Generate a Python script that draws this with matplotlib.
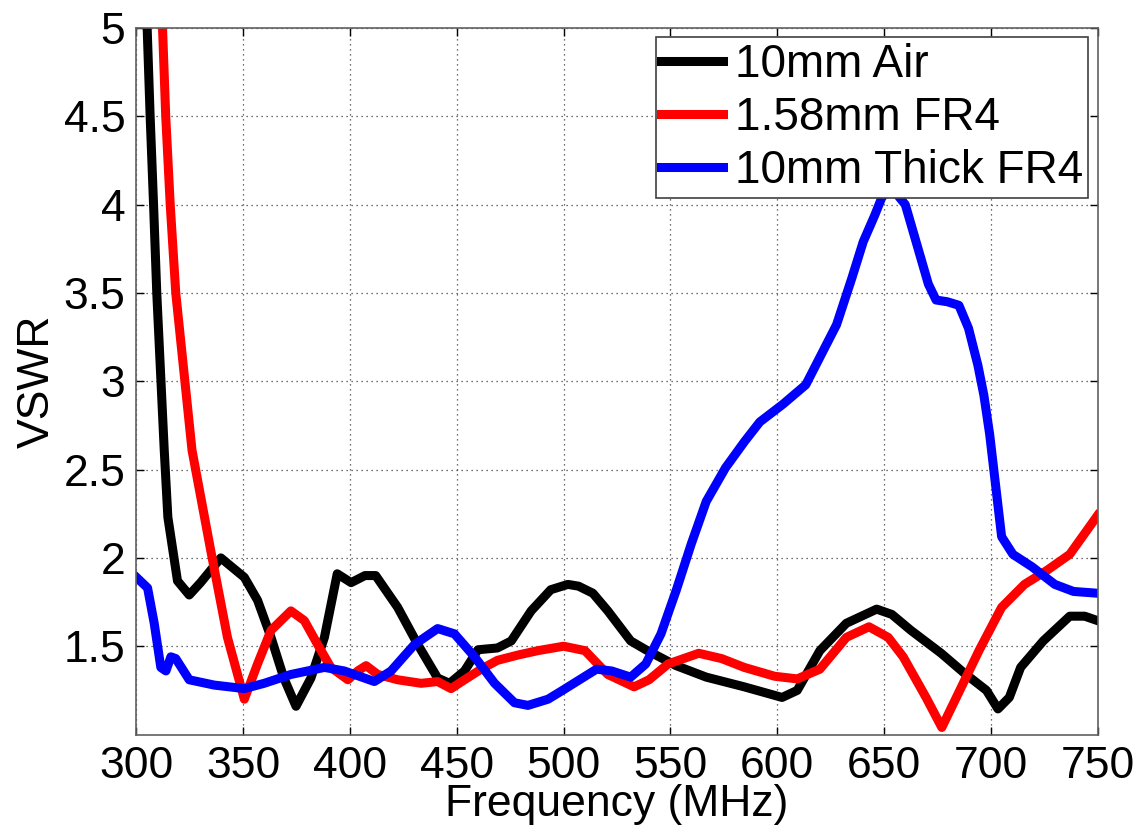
import matplotlib
matplotlib.use("Agg")
import matplotlib.pyplot as plt

plt.rcParams['font.family'] = ['Liberation Sans', 'DejaVu Sans']

# 10mm Air (black)
air_f = [300, 303, 305, 306.4, 308, 309.5, 313, 314.7, 319.2, 324.7, 330, 339.5, 350.5, 356.7,
         363, 369, 374.7, 381.7, 388, 394, 400.5, 407, 412, 422.3, 431.7, 441, 446.6, 453.6,
         459.9, 469, 475.5, 484.8, 494, 502, 507, 513.7, 520.7, 531.4, 538.5, 552.7, 566.8,
         584.6, 602.3, 609.4, 620, 632.4, 646.6, 653.7, 662.6, 676.8, 687.4, 698, 703.4,
         708.7, 714, 724.6, 737, 744, 750]
air_v = [6.0, 5.4, 5.0, 4.5, 4.0, 3.5, 2.61, 2.23, 1.87, 1.79, 1.86, 2.0, 1.89, 1.76,
         1.55, 1.32, 1.16, 1.32, 1.55, 1.91, 1.86, 1.90, 1.90, 1.72, 1.51, 1.32, 1.29, 1.36,
         1.48, 1.49, 1.53, 1.70, 1.82, 1.85, 1.84, 1.80, 1.70, 1.53, 1.48, 1.39, 1.325,
         1.27, 1.21, 1.25, 1.475, 1.63, 1.71, 1.68, 1.59, 1.46, 1.35, 1.25, 1.145,
         1.21, 1.38, 1.53, 1.67, 1.67, 1.645]

# 1.58mm FR4 (red)
fr4_f = [308, 312.2, 313.7, 315.8, 318.4, 326, 334.8, 342.6, 350.5, 356.7, 363, 372.3,
         378.6, 384.8, 391, 399, 403.6, 407.5, 413, 422.3, 433.3, 441, 447.3, 453.6, 461.4,
         469, 478.6, 488, 500, 510, 520.7, 533, 540, 549, 563.3, 574, 584.6, 598.8, 609.4,
         620, 632.4, 643, 652, 659, 669.7, 677.1, 683.9, 694.5, 705.1, 715.8, 726.4, 737,
         750]
fr4_v = [5.6, 5.0, 4.5, 4.0, 3.5, 2.61, 2.04, 1.55, 1.2, 1.40, 1.59, 1.70,
         1.645, 1.51, 1.38, 1.31, 1.36, 1.39, 1.34, 1.31, 1.29, 1.30, 1.26, 1.31, 1.37,
         1.42, 1.45, 1.475, 1.50, 1.475, 1.34, 1.27, 1.31, 1.40, 1.46, 1.43, 1.38, 1.33, 1.315,
         1.37, 1.55, 1.61, 1.55, 1.44, 1.21, 1.04, 1.21, 1.475, 1.72, 1.85, 1.93, 2.02,
         2.24]

# 10mm Thick FR4 (blue)
thick_f = [300, 305.2, 308.3, 311.4, 313.8, 316.1, 318.4, 324.7, 336.4, 350.5, 359.8, 372.3,
           388, 397.3, 411.4, 419.2, 430.2, 441, 448.9, 458.3, 467.7, 477, 483.3, 492.7,
           499.5, 515.4, 522.5, 531.4, 538.5, 545.6, 552.7, 559.8, 566.8, 575.8, 584.8,
           591.9, 602.7, 613.4, 620.6, 627.8, 635, 640.3, 645.7, 649, 652, 656, 660, 663.6,
           667.2, 670.8, 674.4, 679.7, 685.1, 689.6, 694, 696.8, 699.5, 702.2, 705.1, 710.4,
           719.3, 730, 738.8, 750]
thick_v = [1.89, 1.83, 1.63, 1.38, 1.36, 1.44, 1.43, 1.31, 1.28, 1.26, 1.29, 1.34,
           1.38, 1.36, 1.30, 1.36, 1.51, 1.60, 1.57, 1.44, 1.29, 1.18, 1.165, 1.20,
           1.25, 1.37, 1.36, 1.325, 1.40, 1.57, 1.815, 2.08, 2.32, 2.51, 2.66,
           2.77, 2.87, 2.98, 3.15, 3.32, 3.585, 3.79, 3.94, 4.04, 4.08, 4.06, 4.0, 3.85,
           3.70, 3.55, 3.46, 3.45, 3.43, 3.30, 3.09, 2.92, 2.70, 2.42, 2.12, 2.02,
           1.95, 1.85, 1.81, 1.80]

labels = ['10mm Air', '1.58mm FR4', '10mm Thick FR4']
x_ticks = [300, 350, 400, 450, 500, 550, 600, 650, 700, 750]
y_ticks = [1.5, 2, 2.5, 3, 3.5, 4, 4.5, 5]
y_tick_labels = ['1.5', '2', '2.5', '3', '3.5', '4', '4.5', '5']

fs = 32

fig = plt.figure(figsize=(11.43, 8.33), dpi=100)
ax = fig.add_axes([0.1194, 0.1182, 0.8408, 0.8482])

lw = 6.5
ax.plot(air_f, air_v, color='black', lw=lw, label=labels[0], solid_joinstyle='round')
ax.plot(fr4_f, fr4_v, color='#ff0000', lw=lw, label=labels[1], solid_joinstyle='round')
ax.plot(thick_f, thick_v, color='#0000ff', lw=lw, label=labels[2], solid_joinstyle='round')

ax.set_xlim(300, 750)
ax.set_ylim(1, 5)
ax.set_xticks(x_ticks)
ax.set_yticks(y_ticks)
ax.set_yticklabels(y_tick_labels)
ax.tick_params(direction='in', length=6, width=1, labelsize=fs, top=True, right=True,
               pad=8, colors='black')
for s in ax.spines.values():
    s.set_color('#606060')
    s.set_linewidth(1.2)
ax.grid(True, linestyle=(0, (1, 3)), color='#404040', linewidth=0.9)

ax.set_xlabel('Frequency (MHz)', fontsize=fs, labelpad=-2)
ax.set_ylabel('VSWR', fontsize=fs, labelpad=4)

leg = ax.legend(loc='upper right', fontsize=33, handlelength=1.35, handletextpad=0.25,
                labelspacing=0.2, borderpad=0.12, borderaxespad=0.2, fancybox=False,
                framealpha=1, edgecolor='#404040')
leg.get_frame().set_linewidth(1.2)

fig.savefig('out.png', dpi=100)
